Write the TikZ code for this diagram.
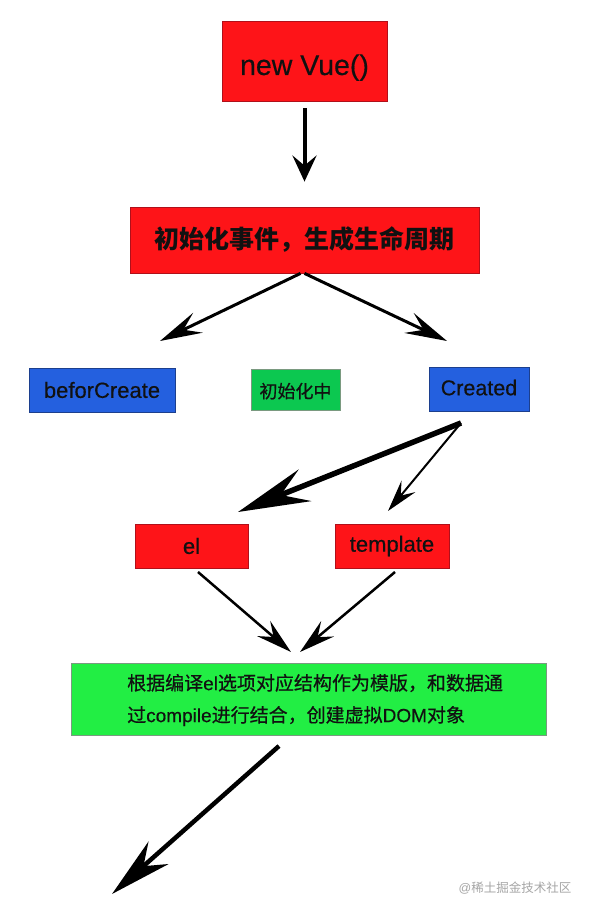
\documentclass[tikz,border=0pt]{standalone}
\usepackage{fontspec}
\setmainfont{Liberation Sans}
\newfontfamily\cjk{Noto Sans CJK SC}
\newfontfamily\cjkm{Noto Sans CJK SC}[FakeBold=0.6]
\newfontfamily\latm{Liberation Sans}[FakeBold=0.4]
\usetikzlibrary{arrows.meta}
\definecolor{vred}{HTML}{FE1418}
\definecolor{vredb}{HTML}{B0101A}
\definecolor{vblue}{HTML}{2460DF}
\definecolor{vblueb}{HTML}{1C3F8E}
\definecolor{vgreen}{HTML}{0CC850}
\definecolor{vgreenb}{HTML}{7A9A80}
\definecolor{lgreen}{HTML}{22EE44}
\definecolor{txt}{HTML}{111111}
\tikzset{
  box/.style={draw, line width=0.8pt, inner sep=0pt, text=txt},
  redbox/.style={box, fill=vred, draw=vredb},
  bluebox/.style={box, fill=vblue, draw=vblueb},
  greenbox/.style={box, fill=vgreen, draw=vgreenb},
  arrA/.style={line width=4pt, -{Stealth[length=26pt,width=24pt,inset=10pt]}},
  arrB/.style={line width=3pt, -{Stealth[length=42pt,width=22pt,inset=16pt]}},
  arrC/.style={line width=5.5pt, -{Stealth[length=72pt,width=34pt,inset=26pt]}},
  arrD/.style={line width=2pt, -{Stealth[length=32pt,width=18pt,inset=12pt]}},
  arrE/.style={line width=2.5pt, -{Stealth[length=36pt,width=20pt,inset=13pt]}},
  arrF/.style={line width=4.5pt, -{Stealth[length=62pt,width=30pt,inset=20pt]}},
}
\begin{document}
\begin{tikzpicture}[x=1pt,y=-1pt]
\useasboundingbox[fill=white] (0,0) rectangle (589,915);

\node[redbox, minimum width=165pt, minimum height=80pt] (vue) at (304.5,61)
  {\raisebox{-14pt}[0pt][0pt]{\latm\fontsize{28.5}{32}\selectfont new Vue()}};
\node[redbox, minimum width=349pt, minimum height=66pt] (evt) at (304.5,240)
  {\fontsize{25}{30}\selectfont\cjk\bfseries 初始化事件，生成生命周期};

\node[bluebox, minimum width=146pt, minimum height=44pt] (bc) at (102,390)
  {\latm\fontsize{22}{24}\selectfont beforCreate};
\node[greenbox, minimum width=89pt, minimum height=41pt] (mid) at (295.5,390)
  {\raisebox{-8pt}[0pt][0pt]{\fontsize{18}{22}\selectfont\cjkm 初始化中}};
\node[bluebox, minimum width=100pt, minimum height=44pt] (cr) at (479,389)
  {\raisebox{3pt}{\latm\fontsize{21.5}{24}\selectfont Created}};

\node[redbox, minimum width=113pt, minimum height=44pt] (el) at (191.5,546)
  {\latm\fontsize{22}{24}\selectfont el};
\node[redbox, minimum width=114pt, minimum height=44pt] (tp) at (392,546)
  {\latm\fontsize{22}{24}\selectfont template};

\node[box, fill=lgreen, draw=vgreenb, minimum width=475pt, minimum height=72pt] (gb) at (308.5,699) {};
\node[anchor=west, inner sep=0pt, align=left, text=txt, font=\latm\fontsize{19}{32}\selectfont] (gt) at (127,700)
  {{\cjkm 根据编译}el{\cjkm 选项对应结构作为模版，和数据通}\\
   {\cjkm 过}compile{\cjkm 进行结合，创建虚拟}DOM{\cjkm 对象}};

\node[text=black!35, font=\fontsize{12.5}{15}\selectfont] (wm) at (515,888) {{@}{\cjk 稀土掘金技术社区}};

% free arrow ends
\coordinate (e1) at (160,341);
\coordinate (e2) at (447,341);
\coordinate (c0) at (461,423);
\coordinate (c1) at (238,512);
\coordinate (c2) at (388,511);
\coordinate (t1) at (198,572);
\coordinate (t2) at (395,572);
\coordinate (g1) at (291,652);
\coordinate (g2) at (300,652);
\coordinate (b0) at (279,746);
\coordinate (b1) at (112,894);

\draw[arrA, shorten <=7pt, shorten >=25pt] (vue.south) -- (evt.north);
\draw[arrB] (evt.south) ++(-4,0) coordinate (s1) -- (e1);
\draw[arrB] (evt.south) -- (e2);
\draw[arrC] (c0) -- (c1);
\draw[arrD] (c0) -- (c2);
\draw[arrE] (t1) -- (g1);
\draw[arrE] (t2) -- (g2);
\draw[arrF] (b0) -- (b1);
\end{tikzpicture}
\end{document}
